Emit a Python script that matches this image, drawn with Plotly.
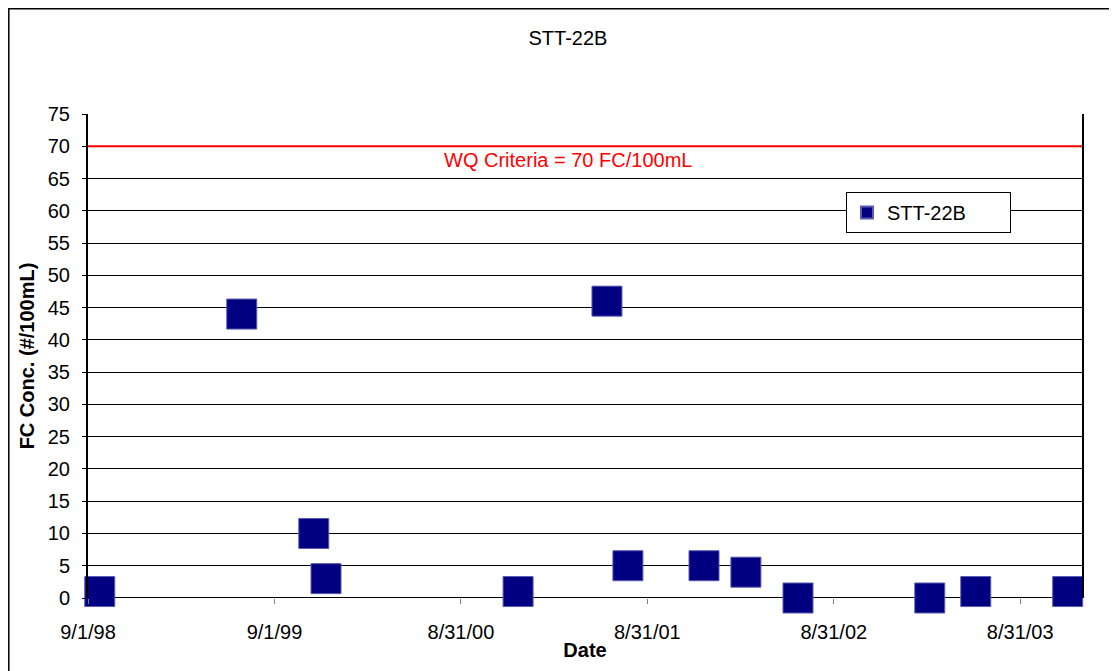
import plotly.graph_objects as go

# sample dates and fecal coliform values
dates = ["1998-09-24", "1999-06-29", "1999-11-17", "1999-12-11", "2000-12-21",
         "2001-06-13", "2001-07-24", "2001-12-20", "2002-03-12", "2002-06-22",
         "2003-03-07", "2003-06-05", "2003-12-02"]
fc_values = [1, 44, 10, 3, 1, 46, 5, 5, 4, 0, 0, 1, 1]

tick_dates = ["1998-09-01", "1999-09-01", "2000-08-31", "2001-08-31", "2002-08-31", "2003-08-31"]
tick_labels = ["9/1/98", "9/1/99", "8/31/00", "8/31/01", "8/31/02", "8/31/03"]
x_range = ["1998-09-01", "2003-12-30"]

criteria = 70
criteria_label = "WQ Criteria = 70 FC/100mL"
series_name = "STT-22B"

FONT = "Liberation Sans, Arial, sans-serif"

# plot area in figure pixels (page adds an 8px body margin)
L, R, T, B = 80, 43, 106, 81
W, H = 1117, 671
PW, PH = W - L - R, H - T - B

fig = go.Figure()

fig.add_trace(go.Scatter(
    x=x_range, y=[criteria, criteria], mode="lines",
    line=dict(color="#ff0000", width=2), showlegend=False, hoverinfo="skip",
))

# trailing non-breaking spaces widen the legend box like the original
fig.add_trace(go.Scatter(
    x=dates, y=fc_values, mode="markers", name=series_name + "&nbsp;" * 7,
    marker=dict(symbol="square", size=30, color="#000080",
                line=dict(color="#5a5ab4", width=1)),
    cliponaxis=False,
))

fig.add_annotation(
    x="2001-03-29", y=criteria, xref="x", yref="y", yanchor="top", yshift=-1,
    text=criteria_label, showarrow=False,
    font=dict(color="#ff0000", size=20, family=FONT),
)

# outer chart frame
fig.add_shape(type="rect", xref="paper", yref="paper",
              x0=(0.8 - L) / PW, x1=(W + 30 - L) / PW,
              y0=-(B + 30) / PH, y1=(PH + T - 0.8) / PH,
              line=dict(color="#000000", width=1.5), layer="below")

fig.update_layout(
    width=W, height=H,
    margin=dict(l=L, r=R, t=T, b=B),
    paper_bgcolor="white", plot_bgcolor="white",
    font=dict(family=FONT, size=20, color="black"),
    title=dict(text=series_name, x=560 / W, xanchor="center", y=1 - 30 / H,
               yanchor="middle", font=dict(size=20)),
    legend=dict(x=(838 - L) / PW, y=(PH + T - 184) / PH, xanchor="left", yanchor="top",
                bgcolor="white", bordercolor="black", borderwidth=1,
                font=dict(size=20), itemsizing="constant"),
    showlegend=True,
)

fig.update_xaxes(
    type="date", range=x_range, tickvals=tick_dates, ticktext=tick_labels,
    showgrid=False, zeroline=False, showline=False,
    ticks="outside", ticklen=5, tickcolor="#808080",
    tickfont=dict(size=20), ticklabelstandoff=11,
    title=dict(text="<b>Date</b>", font=dict(size=20), standoff=0),
)
fig.update_yaxes(
    range=[0, 75], dtick=5, showgrid=True, gridcolor="#000000", gridwidth=1,
    zeroline=False, showline=True, linecolor="#000000", linewidth=2,
    mirror=True, ticks="outside", ticklen=4, tickcolor="#000000",
    tickfont=dict(size=20), ticklabelstandoff=8,
    title=dict(text="<b>FC Conc. (#/100mL)</b>", font=dict(size=20), standoff=8),
)

# axis line at zero
fig.add_shape(type="line", xref="paper", yref="y", x0=0, x1=1, y0=0, y1=0,
              line=dict(color="#000000", width=2), layer="below")

fig.write_html("out.html")
